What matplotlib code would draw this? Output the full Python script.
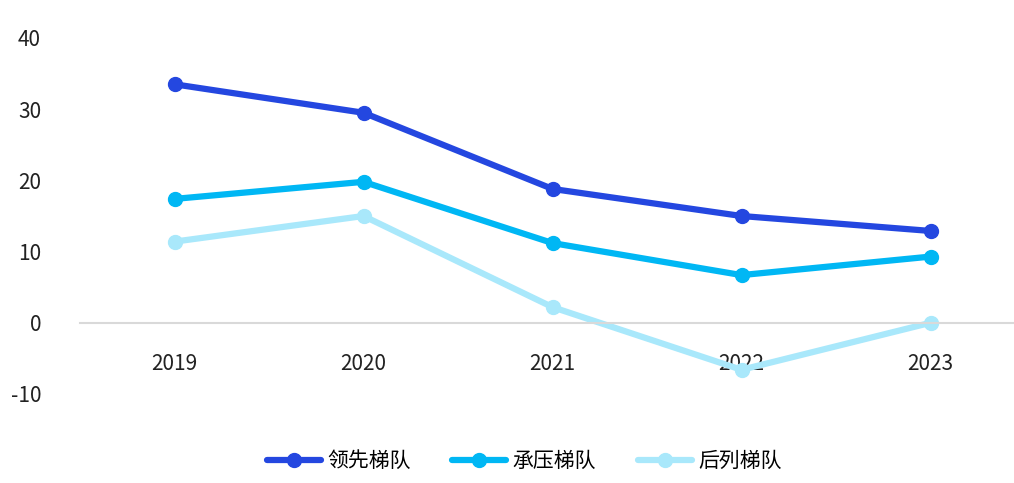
import matplotlib
matplotlib.use("Agg")
import matplotlib.pyplot as plt
from matplotlib import font_manager as fm

years = ["2019", "2020", "2021", "2022", "2023"]
lead = [33.5, 29.5, 18.8, 15.0, 12.9]
press = [17.4, 19.8, 11.2, 6.7, 9.3]
rear = [11.4, 15.0, 2.2, -6.6, 0.0]
names = ["领先梯队", "承压梯队", "后列梯队"]
colors = ["#2447E0", "#00B7F4", "#A9E8FB"]

fam = None
for f in fm.fontManager.ttflist:
    if "CJK" in f.name and ("SC" in f.name or fam is None):
        fam = f.name
if fam is None:
    for p in fm.findSystemFonts():
        if "CJK" in p:
            fm.fontManager.addfont(p)
            fam = fm.FontProperties(fname=p).get_name()
            break
plt.rcParams["font.family"] = [fam or "DejaVu Sans", "DejaVu Sans"]
plt.rcParams["axes.unicode_minus"] = False

fig = plt.figure(figsize=(10.14, 4.83), dpi=100)
ax = fig.add_axes([80/1014, 89/483, 945/1014, 356/483])
x = range(len(years))
for s, n, c in zip([lead, press, rear], names, colors):
    ax.plot(x, s, color=c, lw=4.5, marker="o", ms=10, label=n, solid_capstyle="round")
ax.set_ylim(-10, 40)
ax.set_xlim(-0.5, 4.5)
ax.set_yticks([-10, 0, 10, 20, 30, 40])
ax.set_xticks(list(x))
ax.set_xticklabels(years)
for sp in ["top", "right", "left"]:
    ax.spines[sp].set_visible(False)
ax.spines["bottom"].set_position(("data", 0))
ax.spines["bottom"].set_color("#D9D9D9")
ax.spines["bottom"].set_linewidth(1.5)
ax.tick_params(axis="both", length=0, labelsize=15, colors="#222222")
ax.tick_params(axis="x", pad=22)
ax.tick_params(axis="y", pad=28)
ax.legend(loc="upper center", bbox_to_anchor=(0.47, -0.105), ncol=3, frameon=False,
          fontsize=15, handlelength=2.6, columnspacing=2.0, handletextpad=0.3)
fig.savefig("out.png", dpi=100)
